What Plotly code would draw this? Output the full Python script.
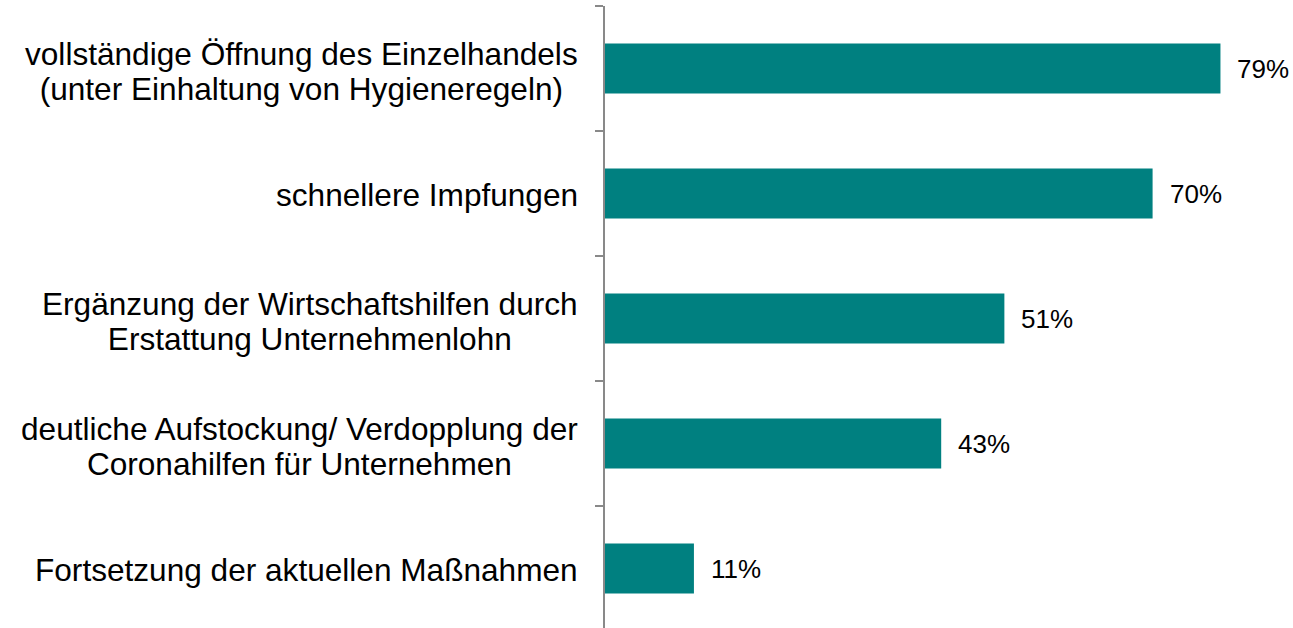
import plotly.graph_objects as go

categories = [
    "vollständige Öffnung des Einzelhandels<br>(unter Einhaltung von Hygieneregeln)",
    "schnellere Impfungen",
    "Ergänzung der Wirtschaftshilfen durch<br>Erstattung Unternehmenlohn",
    "deutliche Aufstockung/ Verdopplung der<br>Coronahilfen für Unternehmen",
    "Fortsetzung der aktuellen Maßnahmen",
]
values = [78.9, 70.2, 51.2, 43.1, 11.4]
value_labels = ["79%", "70%", "51%", "43%", "11%"]

FONT = "Liberation Sans, Arial, sans-serif"
BAR_COLOR = "#008080"
AXIS_COLOR = "#898989"

fig = go.Figure()
fig.add_trace(go.Bar(
    y=categories, x=values, orientation="h",
    marker=dict(color=BAR_COLOR, line=dict(width=0)),
    hoverinfo="skip",
))


def big(label):
    return "<br>".join(
        "<span style='font-size:31.6px'>%s</span>" % part for part in label.split("<br>")
    )


annotations = []
for cat, v, lab in zip(categories, values, value_labels):
    annotations.append(dict(
        x=v, y=cat, xref="x", yref="y", text=lab, showarrow=False,
        xanchor="left", yanchor="middle", xshift=15, yshift=0,
        font=dict(family=FONT, size=26, color="#000000"),
    ))
    two = "<br>" in cat
    annotations.append(dict(
        x=0, y=cat, xref="paper", yref="y", text=big(cat), showarrow=False,
        xanchor="right", yanchor="middle", align="center", xshift=-25,
        yshift=-3 if two else -1,
        font=dict(family=FONT, size=27, color="#000000"),
    ))

n = len(categories)
fig.update_layout(
    width=1293, height=628,
    margin=dict(l=605, r=0, t=6, b=0),
    paper_bgcolor="white", plot_bgcolor="white",
    bargap=0.6, showlegend=False,
    annotations=annotations,
    xaxis=dict(range=[0, 88.2], visible=False, fixedrange=True),
    yaxis=dict(
        type="category", categoryorder="array", categoryarray=categories,
        range=[n - 0.5 - 3 / 125, -0.5],
        showticklabels=False, showgrid=False, zeroline=False,
        showline=True, linecolor=AXIS_COLOR, linewidth=2,
        ticks="outside", tickson="boundaries", ticklen=8,
        tickcolor=AXIS_COLOR, tickwidth=2, fixedrange=True,
    ),
)

fig.write_html(
    "out.html",
    config={"displayModeBar": False},
    post_script="document.body.style.margin='0px';document.body.style.overflow='hidden';",
)
